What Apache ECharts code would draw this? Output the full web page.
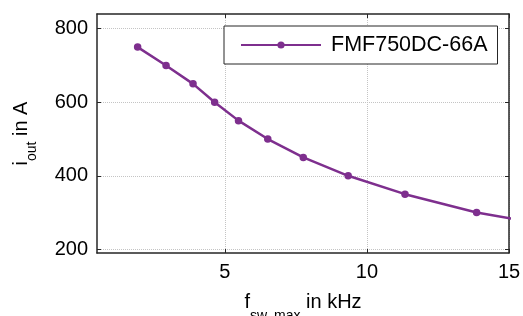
<!DOCTYPE html>
<html>
<head>
<meta charset="utf-8">
<script src="https://cdn.jsdelivr.net/npm/echarts@6/dist/echarts.min.js"></script>
<style>
  html, body { margin: 0; padding: 0; background: #fff; }
  #chart { width: 523px; height: 316px; }
</style>
</head>
<body>
<div id="chart"></div>
<script>
// f_sw,max (kHz) vs i_out (A); last point lies past the axis end and is clipped
const freqKHz = [1.93, 2.93, 3.88, 4.64, 5.48, 6.51, 7.76, 9.34, 11.34, 13.86, 17.6];
const currentA = [750, 700, 650, 600, 550, 500, 450, 400, 350, 300, 250];
const xTicks = [5, 10, 15];
const yTicks = [200, 400, 600, 800];
const seriesName = "FMF750DC-66A";

const FONT = "'Liberation Sans', Arial, sans-serif";
const AXIS_COLOR = "#262626";
const LINE_COLOR = "#7E2F8E";
const GRID_COLOR = "#c4c4c4";

let points = [];
for (let i = 0; i < freqKHz.length; i++) {
  points.push([freqKHz[i], currentA[i]]);
}

// rich text styles for subscripted axis names
function nameRich(subDrop) {
  return {
    m: { fontSize: 20, fontFamily: FONT, color: "#000", verticalAlign: "top" },
    s: { fontSize: 14, fontFamily: FONT, color: "#000", padding: [subDrop, 0, 0, 0] }
  };
}

function frameAxis(pos, min, max, ticks) {
  return {
    type: "value",
    position: pos,
    min: min,
    max: max,
    axisLine: { show: true, onZero: false, lineStyle: { color: AXIS_COLOR, width: 1.5 } },
    axisTick: { show: true, inside: true, length: 4, customValues: ticks, lineStyle: { color: AXIS_COLOR, width: 1 } },
    axisLabel: { show: false },
    splitLine: { show: false }
  };
}

let chart = echarts.init(document.getElementById("chart"));
chart.setOption({
  animation: false,
  backgroundColor: "#fff",
  grid: { left: 97, right: 14, top: 14, bottom: 63, containLabel: false, outerBoundsMode: "none" },
  legend: {
    data: [seriesName],
    left: 224,
    top: 26,
    padding: [8, 10, 8, 16],
    itemWidth: 80,
    itemHeight: 9,
    backgroundColor: "#fff",
    borderColor: AXIS_COLOR,
    borderWidth: 1,
    textStyle: { fontSize: 21.5, fontFamily: FONT, color: "#000", padding: [0, 0, 0, 5] }
  },
  xAxis: [
    {
      type: "value",
      position: "bottom",
      min: 0.5,
      max: 15,
      name: "{m|f}{s|sw, max}{m| in kHz}",
      nameLocation: "middle",
      nameGap: 39,
      nameMoveOverlap: false,
      nameTextStyle: { rich: nameRich(17) },
      axisLine: { onZero: false, lineStyle: { color: AXIS_COLOR, width: 1.5 } },
      axisTick: { inside: true, length: 4, customValues: xTicks, lineStyle: { color: AXIS_COLOR } },
      axisLabel: { customValues: xTicks, fontSize: 20, fontFamily: FONT, color: "#000", margin: 9 },
      splitLine: { show: true, lineStyle: { color: GRID_COLOR, type: "dotted", width: 1 } }
    },
    frameAxis("top", 0.5, 15, xTicks)
  ],
  yAxis: [
    {
      type: "value",
      position: "left",
      min: 190,
      max: 840,
      name: "{m|i}{s|out}{m| in A}",
      nameLocation: "middle",
      nameRotate: 90,
      nameGap: 58,
      nameMoveOverlap: false,
      nameTextStyle: { rich: nameRich(14) },
      axisLine: { show: true, onZero: false, lineStyle: { color: AXIS_COLOR, width: 1.5 } },
      axisTick: { show: true, inside: true, length: 4, customValues: yTicks, lineStyle: { color: AXIS_COLOR } },
      axisLabel: { customValues: yTicks, fontSize: 20, fontFamily: FONT, color: "#000", margin: 9 },
      splitLine: { show: true, lineStyle: { color: GRID_COLOR, type: "dotted", width: 1 } }
    },
    frameAxis("right", 190, 840, yTicks)
  ],
  series: [
    {
      name: seriesName,
      type: "line",
      xAxisIndex: 0,
      yAxisIndex: 0,
      data: points,
      clip: true,
      symbol: "circle",
      symbolSize: 7.5,
      showAllSymbol: true,
      lineStyle: { color: LINE_COLOR, width: 2.5 },
      itemStyle: { color: LINE_COLOR },
      z: 3
    }
  ]
});
</script>
</body>
</html>
